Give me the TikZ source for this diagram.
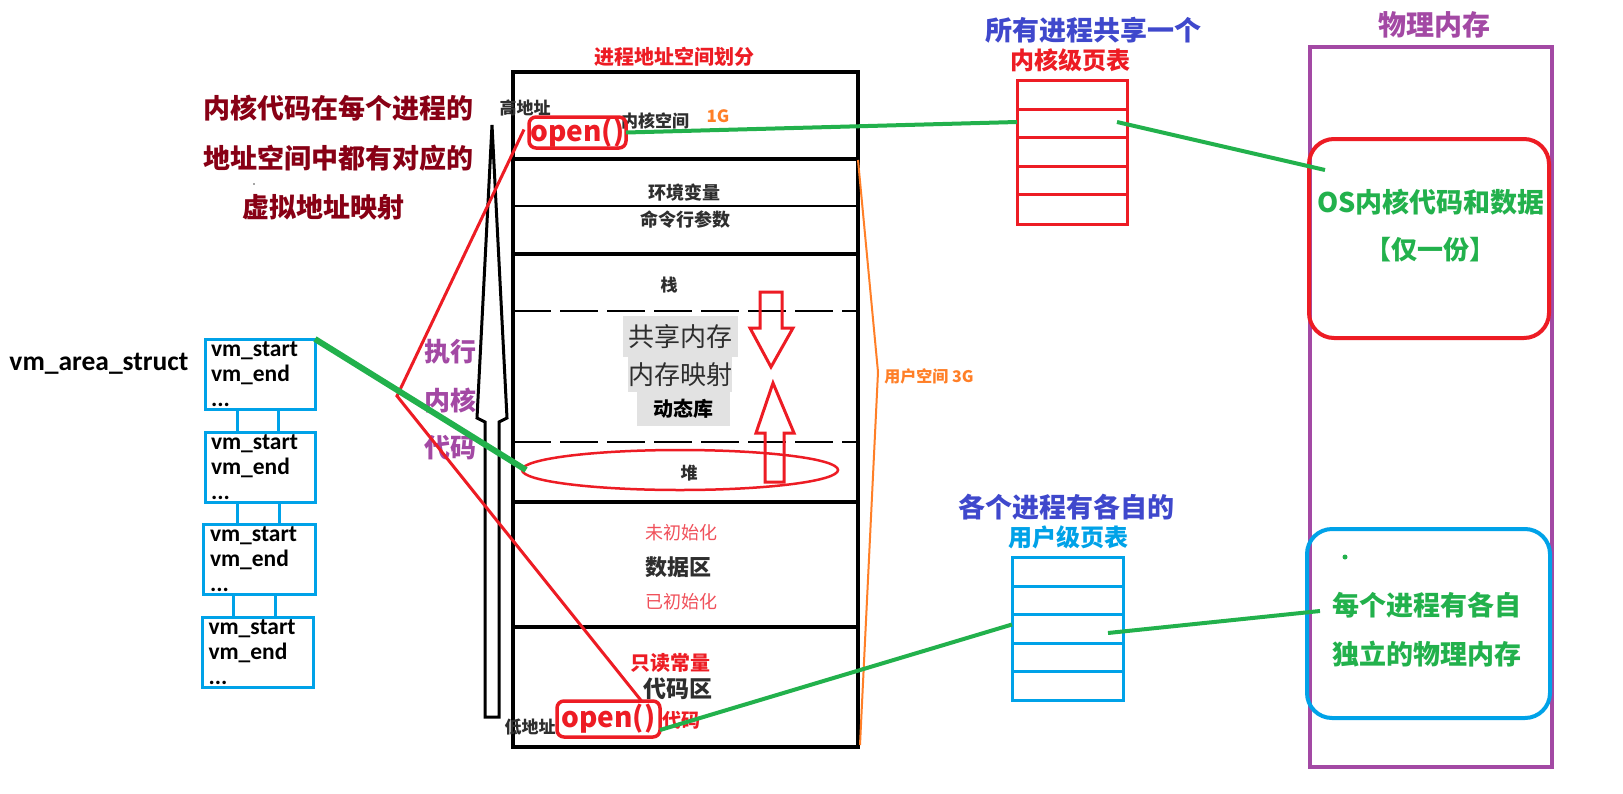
\documentclass[tikz,border=0pt]{standalone}
\usepackage{fontspec}
\setmainfont{Noto Sans CJK SC}
\newfontfamily\calib{Carlito}
\usetikzlibrary{shapes.geometric}
\definecolor{dred}{HTML}{880015}
\definecolor{ppl}{HTML}{A349A4}
\definecolor{blu}{HTML}{3F48CC}
\definecolor{rd}{HTML}{ED1C24}
\definecolor{cy}{HTML}{00A2E8}
\definecolor{gr}{HTML}{22B14C}
\definecolor{org}{HTML}{FF7F27}
\definecolor{dk}{HTML}{2E2E2E}
\definecolor{lrd}{HTML}{F0505A}
\definecolor{gbox}{HTML}{E2E2E2}
\newcommand\fsz[1]{\fontsize{#1}{#1}\selectfont}
\begin{document}
\begin{tikzpicture}[x=1pt,y=-1pt,
  every node/.style={inner sep=0pt,outer sep=0pt},
  txt/.style={font=\fsz{#1}\bfseries},
  vmbox/.style={draw=cy,line width=3pt,minimum width=110pt,minimum height=70pt,align=left,text width=98pt,font=\calib\bfseries\fontsize{23.5}{25}\selectfont},
  vmlink/.style={draw=cy,line width=3pt},
  openbox/.style={draw=rd,line width=3.5pt,rounded corners=7pt,text=rd,font=\fsz{28}\bfseries},
  gline/.style={draw=gr,line width=4pt},
  rline/.style={draw=rd,line width=3pt},
  thick4/.style={line width=4pt},
]
\useasboundingbox (0,0) rectangle (1623,793);
\fill[white] (0,0) rectangle (1623,793);

% ---------- left text ----------
\node[txt=27,text=dred] (l1) at (338,108) {内核代码在每个进程的};
\node[txt=27,text=dred] (l2) at (338,158) {地址空间中都有对应的};
\node[txt=27,text=dred] (l3) at (323,207) {虚拟地址映射};
\fill[black!70] (254,184) circle (0.8pt);

% ---------- vm_area_struct ----------
\node[font=\calib\bfseries\fsz{27.5}] (vmt) at (99,364) {vm\_area\_struct};
\node[vmbox] (v1) at (260,374) {vm\_start\\vm\_end\\...};
\node[vmbox] (v2) at (260,467) {vm\_start\\vm\_end\\...};
\node[vmbox,minimum width=112pt] (v3) at (259,559.5) {vm\_start\\vm\_end\\...};
\node[vmbox,minimum width=111pt] (v4) at (257.5,652.5) {vm\_start\\vm\_end\\...};
\draw[vmlink] ([xshift=-23pt]v1.south) -- ([xshift=-23pt]v2.north);
\draw[vmlink] ([xshift=18pt]v1.south) -- ([xshift=18pt]v2.north);
\draw[vmlink] ([xshift=-23pt]v2.south) -- ([xshift=-22pt]v3.north);
\draw[vmlink] ([xshift=19pt]v2.south) -- ([xshift=20pt]v3.north);
\draw[vmlink] ([xshift=-26pt]v3.south) -- ([xshift=-24.5pt]v4.north);
\draw[vmlink] ([xshift=16pt]v3.south) -- ([xshift=17.5pt]v4.north);

% ---------- execute kernel code ----------
\node[txt=26,text=ppl] (e1) at (450,352) {执行};
\node[txt=26,text=ppl] (e2) at (450,400) {内核};
\node[txt=26,text=ppl] (e3) at (450,448) {代码};

% ---------- big black hollow arrow ----------
\draw[line width=3pt,line join=miter] (492,125) -- (507,418) -- (499,422) -- (499,717) -- (485,717) -- (485,422) -- (477,418) -- cycle;

% ---------- address space ----------
\node[txt=20,text=rd] (title) at (674,57) {进程地址空间划分};
\node[draw,thick4,minimum width=345pt,minimum height=675pt] (vas) at (685.5,409.5) {};
\draw[thick4] (513,159) -- (858,159);
\draw[line width=1.2pt] (513,206) -- (858,206);
\draw[thick4] (513,254) -- (858,254);
\draw[line width=1.5pt,dash pattern=on 38pt off 9pt] (513,311) -- (858,311);
\draw[line width=1.5pt,dash pattern=on 38pt off 9pt] (513,442) -- (858,442);
\draw[thick4] (513,502) -- (858,502);
\draw[thick4] (513,627) -- (858,627);

\node[txt=17,text=dk] (hi) at (525,108) {高地址};
\node[txt=17,text=dk] (ks) at (655,121) {内核空间};
\node[txt=17,text=org] (g1) at (718,116) {1G};
\node[openbox,minimum width=97pt,minimum height=31pt] (topopen) at (577.5,132.5) {open()};

\node[txt=18,text=dk] (env) at (684,193) {环境变量};
\node[txt=18,text=dk] (cmd) at (685,220) {命令行参数};
\node[txt=17,text=dk] (stk) at (669,285) {栈};

\node[fill=gbox,minimum width=115pt,minimum height=41pt] (sh1) at (680.5,336.5) {};
\node[fill=gbox,minimum width=104pt,minimum height=35pt] (sh2) at (680,374.5) {};
\node[fill=gbox,minimum width=93pt,minimum height=34pt] (sh3) at (683.5,409) {};
\node[font=\fsz{26},text=dk] (t1) at (680,337) {共享内存};
\node[font=\fsz{26},text=dk] (t2) at (680,375) {内存映射};
\node[txt=20,text=black] (t3) at (683,409) {动态库};

% red hollow arrows
\draw[rd,line width=3pt] (760,292) -- (782,292) -- (782,328) -- (793,328) -- (771,367) -- (750,328) -- (760,328) -- cycle;
\draw[rd,line width=3pt] (773,383) -- (794,433) -- (784,433) -- (784,482) -- (765,482) -- (765,433) -- (756,433) -- cycle;

\node[ellipse,draw=rd,line width=2.5pt,minimum width=316pt,minimum height=40pt] (heap) at (680,470) {};
\node[txt=17,text=dk] (hp) at (689,473) {堆};

\node[font=\fsz{18},text=lrd] (uninit) at (681,533) {未初始化};
\node[txt=22,text=dk] (data) at (678,567) {数据区};
\node[font=\fsz{18},text=lrd] (init) at (681,602) {已初始化};
\node[txt=20,text=rd] (ro) at (670,663) {只读常量};
\node[txt=23,text=dk] (code) at (678,689) {代码区};
\node[openbox,minimum width=103pt,minimum height=36pt] (botopen) at (608.5,719) {open()};
\node[txt=19,text=rd] (cd) at (681,720) {代码};
\node[txt=17,text=dk] (lo) at (530,727) {低地址};

% orange bracket
\draw[org,line width=2pt] (858,160) -- (878,372) -- (860,745);
\node[txt=16,text=org] (us) at (929,376) {用户空间 3G};

% red lines from open() calls
\coordinate (rv) at (397,396);
\draw[rline] ([xshift=-5pt,yshift=3pt]topopen.west) -- (rv) -- ([xshift=33pt]botopen.north);

% green thick line vm -> heap
\draw[gr,line width=6pt] (v1.north east) -- ([xshift=4pt]heap.west);

% ---------- kernel page table ----------
\node[txt=27,text=blu] (kt1) at (1093,30) {所有进程共享一个};
\node[txt=24,text=rd] (kt2) at (1070,60) {内核级页表};
\node[draw=rd,line width=3pt,minimum width=110pt,minimum height=144pt] (ktab) at (1072,152) {};
\foreach \yy in {109,137,166,194} \draw[rd,line width=3pt] (1017,\yy) -- (1127,\yy);

% ---------- user page table ----------
\node[txt=27,text=blu] (ut1) at (1066,507) {各个进程有各自的};
\node[txt=24,text=cy] (ut2) at (1068,537) {用户级页表};
\node[draw=cy,line width=3pt,minimum width=111pt,minimum height=143pt] (utab) at (1067.5,628.5) {};
\foreach \yy in {586,614,643,671} \draw[cy,line width=3pt] (1012,\yy) -- (1123,\yy);

% ---------- physical memory ----------
\node[txt=28,text=ppl] (pm) at (1434,25) {物理内存};
\node[draw=ppl,line width=4pt,minimum width=242pt,minimum height=720pt] (phys) at (1431,407) {};
\node[draw=rd,line width=4pt,rounded corners=25pt,minimum width=240pt,minimum height=199pt] (kmem) at (1429,238.5) {};
\node[draw=cy,line width=4pt,rounded corners=25pt,minimum width=243pt,minimum height=189pt] (umem) at (1428.5,623.5) {};
\node[txt=27,text=gr] (os1) at (1431,202) {OS内核代码和数据};
\node[txt=26,text=gr] (os2) at (1430,250) {【仅一份】};
\node[txt=27,text=gr] (pu1) at (1427,605) {每个进程有各自};
\node[txt=27,text=gr] (pu2) at (1427,654) {独立的物理内存};
\fill[gr] (1345,557) circle (2.5pt);

% ---------- green connectors ----------
\coordinate (k2in) at (1117,122);
\coordinate (kmin) at (1325,170);
\coordinate (u3in) at (1108,633);
\coordinate (umin) at (1320,611);
\draw[gline] (topopen.east) -- (ktab.west |- k2in);
\draw[gline] (k2in) -- (kmin);
\draw[gline] ([yshift=-11pt]botopen.east) -- ([yshift=4pt]utab.west);
\draw[gline] (u3in) -- (umin);
\end{tikzpicture}
\end{document}
